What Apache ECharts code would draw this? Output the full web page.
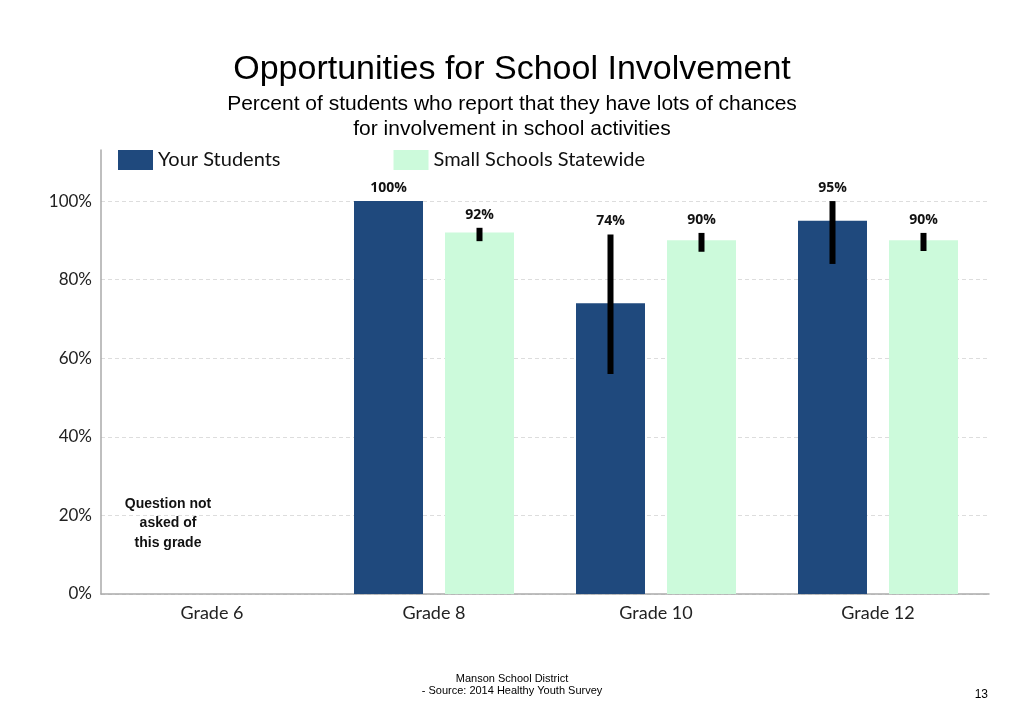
<!DOCTYPE html>
<html><head><meta charset="utf-8">
<script src="https://cdn.jsdelivr.net/npm/echarts@6/dist/echarts.min.js"></script>
<style>html,body{margin:0;padding:0;background:#fff}#c{width:1024px;height:727px}</style>
</head><body><div id="c"></div>
<script>
var categories = ['Grade 6', 'Grade 8', 'Grade 10', 'Grade 12'];
var yourStudents = [null, 100, 74, 95];
var statewide = [null, 92, 90, 90];
// error bar ranges [low, high]
var yourErr = [null, null, [56, 91.5], [84, 100]];
var stateErr = [null, [89.8, 93.2], [87.1, 91.9], [87.3, 91.9]];
var yTicks = [0, 20, 40, 60, 80, 100];

var chart = echarts.init(document.getElementById('c'));
var BW = 69, GAP = 22;

function errData(vals, errs) {
  var out = [];
  for (var i = 0; i < vals.length; i++) {
    if (vals[i] == null) continue;
    var e = errs[i];
    out.push([i, e ? e[0] : vals[i], e ? e[1] : vals[i], vals[i], e ? 1 : 0]);
  }
  return out;
}
function makeRender(offset) {
  return function (params, api) {
    var x = api.value(0);
    var lo = api.coord([x, api.value(1)]);
    var hi = api.coord([x, api.value(2)]);
    var top = api.coord([x, Math.max(api.value(2), api.value(3))]);
    var cx = lo[0] + offset;
    var children = [];
    if (api.value(4)) {
      children.push({type: 'rect', shape: {x: cx - 3, y: hi[1], width: 6, height: lo[1] - hi[1]},
        style: {fill: '#000'}});
    }
    children.push({type: 'text', style: {text: api.value(3) + '%', x: cx, y: top[1] - 6,
      align: 'center', verticalAlign: 'bottom', fill: '#111',
      font: 'bold 14px "Open Sans", Lato, sans-serif'}});
    return {type: 'group', children: children};
  };
}

chart.setOption({
  animation: false,
  backgroundColor: '#fff',
  title: [{
    text: 'Opportunities for School Involvement',
    subtext: 'Percent of students who report that they have lots of chances\nfor involvement in school activities',
    left: 'center', top: 48, itemGap: 5,
    textStyle: {fontFamily: '"Liberation Sans", Arial, sans-serif', fontSize: 34, fontWeight: 'normal', color: '#000'},
    subtextStyle: {fontFamily: '"Liberation Sans", Arial, sans-serif', fontSize: 21, color: '#000', lineHeight: 25}
  }],
  legend: {
    left: 113, top: 145, itemWidth: 35, itemHeight: 20, itemGap: 113,
    icon: 'rect',
    data: ['Your Students', 'Small Schools Statewide'],
    textStyle: {fontFamily: 'Lato, "Open Sans", sans-serif', fontSize: 20, color: '#111', padding: [0, 0, 0, 0]}
  },
  grid: {left: 101, right: 35, top: 150, bottom: 133, containLabel: false},
  xAxis: {
    type: 'category', data: categories,
    axisLine: {lineStyle: {color: '#aaa', width: 1.5}},
    axisTick: {show: false},
    axisLabel: {fontFamily: 'Lato, "Open Sans", sans-serif', fontSize: 18, color: '#222', margin: 10}
  },
  yAxis: {
    type: 'value', min: 0, max: 113, interval: 20,
    axisLine: {show: true, lineStyle: {color: '#aaa', width: 1.5}},
    axisTick: {show: false},
    axisLabel: {
      fontFamily: 'Lato, "Open Sans", sans-serif', fontSize: 17, color: '#222', margin: 9,
      showMaxLabel: false,
      formatter: function (v) { return yTicks.indexOf(v) >= 0 ? v + '%' : ''; }
    },
    splitLine: {show: true, showMaxLine: false, lineStyle: {color: '#ddd', type: [4, 3]}}
  },
  series: [
    {name: 'Your Students', type: 'bar', data: yourStudents, barWidth: BW, barGap: (GAP / BW * 100) + '%',
      itemStyle: {color: '#1f497d'}},
    {name: 'Small Schools Statewide', type: 'bar', data: statewide, barWidth: BW,
      itemStyle: {color: '#ccfadb'}},
    {type: 'custom', renderItem: makeRender(-(BW + GAP) / 2), data: errData(yourStudents, yourErr),
      encode: {x: 0, y: [1, 2]}, z: 10, silent: true},
    {type: 'custom', renderItem: makeRender((BW + GAP) / 2), data: errData(statewide, stateErr),
      encode: {x: 0, y: [1, 2]}, z: 10, silent: true}
  ],
  graphic: [
    {type: 'text', style: {text: 'Question not\nasked of\nthis grade', x: 168, y: 494,
      align: 'center', fill: '#111', lineHeight: 19.5,
      font: 'bold 14px "Liberation Sans", Arial, sans-serif'}},
    {type: 'text', style: {text: 'Manson School District\n- Source: 2014 Healthy Youth Survey', x: 512, y: 673,
      align: 'center', fill: '#000', lineHeight: 12,
      font: '11px "Liberation Sans", Arial, sans-serif'}},
    {type: 'text', style: {text: '13', x: 988, y: 689, align: 'right', fill: '#000',
      font: '12px "Liberation Sans", Arial, sans-serif'}}
  ]
});
</script></body></html>
